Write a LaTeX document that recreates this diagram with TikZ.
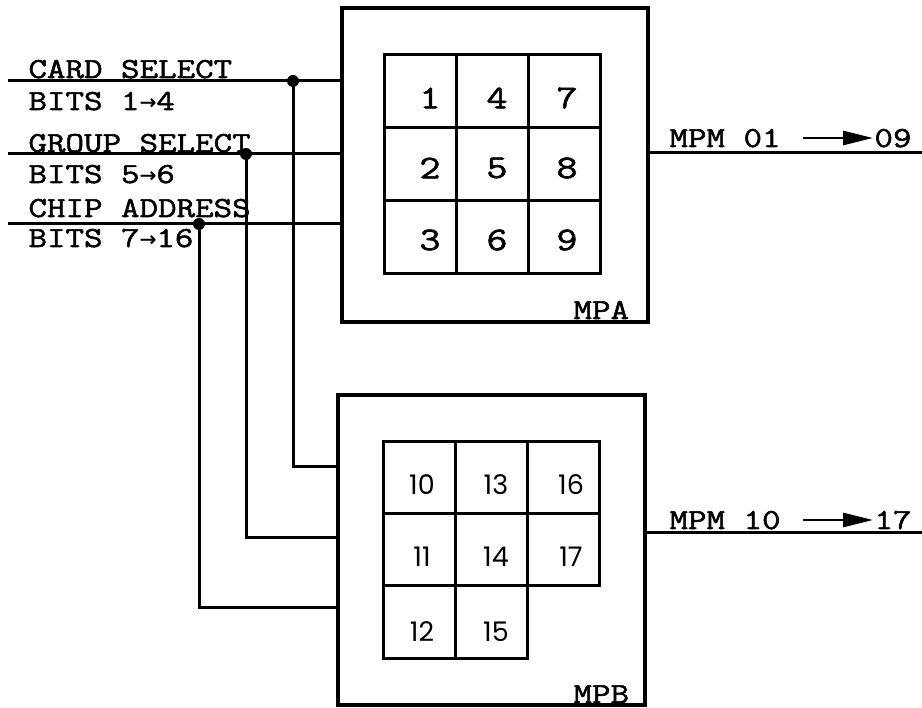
\documentclass[tikz,border=0pt]{standalone}
\usepackage{fontspec}
\newfontfamily\tw[FakeStretch=1.24,FakeBold=1.8]{Latin Modern Mono}
\newfontfamily\dv[FakeBold=0.8]{DejaVu Sans}
\newfontfamily\gs{Poppins}
\newcommand{\ar}{{\dv\fontsize{20}{20}\selectfont\raisebox{1pt}{→}}}
\usetikzlibrary{arrows.meta,calc}
\begin{document}
\begin{tikzpicture}[x=1pt,y=-1pt,line width=3pt,
  lbl/.style={inner sep=0pt,anchor=base west,font=\tw\fontsize{29}{29}\selectfont},
  box/.style={draw,line width=3.5pt,inner sep=0pt},
  cellA/.style={draw,inner sep=0pt,minimum width=72.3pt,minimum height=73.3pt},
  cellB/.style={draw,inner sep=0pt,minimum width=72pt,minimum height=72pt},
  digA/.style={inner sep=0pt,font=\tw\fontsize{33}{33}\selectfont},
  digB/.style={inner sep=0pt,font=\gs\fontsize{27}{27}\selectfont},
  dot/.style={circle,fill=black,inner sep=0pt,minimum size=12pt},
  outarrow/.style={line width=2.8pt,-{Triangle[length=30pt,width=14pt]}}]
\useasboundingbox (0,0) rectangle (922,708);
% boxes
\node[box,minimum width=306pt,minimum height=314pt] (mpa) at (495,165) {};
\node[box,minimum width=307pt,minimum height=310pt] (mpb) at (491.5,550) {};
\node[lbl] (mpal) at (572,319) {MPA};
\node[lbl] (mpbl) at (572,703) {MPB};
% MPA grid
\node[cellA] (a1) at (420.2,90.7) {};
\node[cellA] (a4) at (492.5,90.7) {};
\node[cellA] (a7) at (564.8,90.7) {};
\node[cellA] (a2) at (420.2,164) {};
\node[cellA] (a5) at (492.5,164) {};
\node[cellA] (a8) at (564.8,164) {};
\node[cellA] (a3) at (420.2,237.3) {};
\node[cellA] (a6) at (492.5,237.3) {};
\node[cellA] (a9) at (564.8,237.3) {};
\node[digA] at (430,98) {1};
\node[digA] at (497,98) {4};
\node[digA] at (567,98) {7};
\node[digA] at (430,168) {2};
\node[digA] at (497,168) {5};
\node[digA] at (567,168) {8};
\node[digA] at (430,240) {3};
\node[digA] at (497,240) {6};
\node[digA] at (567,240) {9};
% MPB grid
\node[cellB] (b10) at (419,478) {};
\node[cellB] (b13) at (491,478) {};
\node[cellB] (b16) at (563,478) {};
\node[cellB] (b11) at (419,550) {};
\node[cellB] (b14) at (491,550) {};
\node[cellB] (b17) at (563,550) {};
\node[cellB] (b12) at (419,622) {};
\node[cellB] (b15) at (491,622) {};
\node[digB] at (422,485) {10};
\node[digB] at (496,485) {13};
\node[digB] at (571,485) {16};
\node[digB] at (422,557) {11};
\node[digB] at (496,557) {14};
\node[digB] at (571,557) {17};
\node[digB] at (422,632) {12};
\node[digB] at (496,632) {15};
% input lines
\coordinate (in1) at (8,81);
\coordinate (in2) at (8,154);
\coordinate (in3) at (8,224);
\draw (in1) -- (in1 -| mpa.west);
\draw (in2) -- (in2 -| mpa.west);
\draw (in3) -- (in3 -| mpa.west);
\node[lbl] (t1) at (27,78) {CARD SELECT};
\node[lbl] (t2) at (27,110) {BITS 1\ar4};
\node[lbl] (t3) at (27,152) {GROUP SELECT};
\node[lbl] (t4) at (27,183) {BITS 5\ar6};
\node[lbl] (t5) at (27,217) {CHIP ADDRESS};
\node[lbl] (t6) at (27,247) {BITS 7\ar16};
% junctions and drops
\node[dot] (j1) at (293,81) {};
\node[dot] (j2) at (246,154) {};
\node[dot] (j3) at (199,224) {};
\coordinate (e1) at (338,467);
\coordinate (e2) at (338,538);
\coordinate (e3) at (338,608);
\draw (j1.center) |- (e1);
\draw (j2.center) |- (e2);
\draw (j3.center) |- (e3);
% outputs
\coordinate (oa) at (922,153);
\coordinate (ob) at (922,533);
\draw (oa -| mpa.east) -- (oa);
\draw (ob -| mpb.east) -- (ob);
\node[lbl] (ma) at (668,147) {MPM 01};
\node[lbl] (na) at (873,147) {09};
\node[lbl] (mb) at (668,529) {MPM 10};
\node[lbl] (nb) at (873,529) {17};
\draw[outarrow] ($(ma.base east)+(21,-9)$) -- ($(na.base west)+(0,-9)$);
\draw[outarrow] ($(mb.base east)+(21,-9)$) -- ($(nb.base west)+(0,-9)$);
\end{tikzpicture}
\end{document}
